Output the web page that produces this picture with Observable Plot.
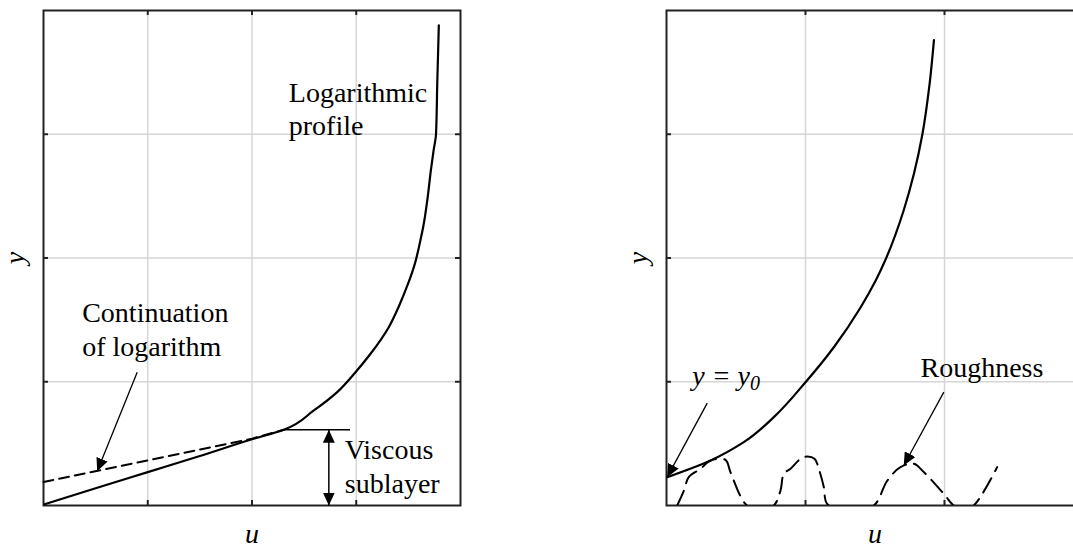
<!DOCTYPE html>
<html><head><meta charset="utf-8">
<script src="https://cdn.jsdelivr.net/npm/d3@7"></script>
<script src="https://cdn.jsdelivr.net/npm/@observablehq/plot@0.6"></script>
<style>
html,body{margin:0;padding:0;background:#fff;overflow:hidden;width:1073px;height:548px;}
#left{position:absolute;left:0;top:0;width:480px;height:548px;}
#right{position:absolute;left:600px;top:0;width:503px;height:548px;}
svg{max-width:none !important;}
</style></head><body>
<div id="left"></div><div id="right"></div>
<script>
// ---------- data ----------
const leftTicksU = [1, 2, 3];
const rightTicksU = [1, 2, 3];
const ticksY = [1, 2, 3];

// Left panel: smooth wall — logarithmic profile with viscous sublayer
const leftSolidU = [0.01, 0.5, 1.0, 1.5, 2.0, 2.305, 2.593, 2.817, 2.993, 3.137, 3.312, 3.405, 3.497, 3.562, 3.615, 3.642, 3.685, 3.716, 3.742, 3.765, 3.777, 3.792];
const leftSolidY = [0.01, 0.14, 0.27, 0.40, 0.535, 0.612, 0.768, 0.916, 1.077, 1.226, 1.441, 1.602, 1.792, 1.953, 2.141, 2.25, 2.49, 2.71, 2.87, 3.0, 3.41, 3.88];
const leftDashU = [0, 1, 2, 2.305];
const leftDashY = [0.19, 0.365, 0.54, 0.612];
const sublayerTop = 0.612;         // height of viscous sublayer
const sublayerLineU = [2.305, 2.945];
const sublayerArrowU = 2.737;

// Right panel: rough wall — logarithmic profile from y = y0
const rightSolidU = [0.005, 0.317, 0.556, 0.772, 1.0, 1.204, 1.396, 1.505, 1.573, 1.705, 1.78, 1.841, 1.89, 1.924];
const rightSolidY = [0.229, 0.364, 0.512, 0.714, 0.996, 1.279, 1.60, 1.818, 1.98, 2.38, 2.68, 3.0, 3.38, 3.76];
const roughU = [0.077, 0.125, 0.16, 0.245, 0.317, 0.424, 0.46, 0.568, 0.67, 0.772, 0.82, 0.844, 0.892, 0.964, 1.012, 1.065, 1.103, 1.132, 1.156, 1.3, 1.491, 1.588, 1.683, 1.779, 1.851, 1.995, 2.067, 2.14, 2.21, 2.379];
const roughY = [0, 0.12, 0.229, 0.297, 0.364, 0.369, 0.27, 0.013, -0.05, 0, 0.12, 0.256, 0.297, 0.377, 0.396, 0.377, 0.269, 0.148, 0.013, -0.05, 0, 0.2, 0.31, 0.337, 0.27, 0.094, 0, -0.03, 0, 0.31];

// annotations: [label, u, y]
const leftLabels = [["Logarithmic\nprofile", 2.353, 2.99], ["Continuation\nof logarithm", 0.371, 1.212], ["Viscous\nsublayer", 2.89, 0.105]];
const leftArrows = [[0.899, 1.077, 0.515, 0.277]];
const rightLabels = [["Roughness", 1.827, 1.037]];
const rightEq = [["y = y0", 0.185, 0.975]];
const rightArrows = [[0.293, 0.827, 0.005, 0.229], [1.995, 0.916, 1.707, 0.323]];

// ---------- drawing ----------
const FONT = "Liberation Serif";
const FS = 28;
const STYLE = "font-family: 'Liberation Serif', serif; font-size: 28px; background: #fff; color: #000; overflow: visible; max-width: none;";
const zipXY = (xs, ys) => xs.map((x, i) => ({x, y: ys[i]}));

function frameMarks(xTicks, plotW, plotH) {
  return [
    Plot.ruleX(xTicks, {x: d => d, stroke: "#d6d6d6", strokeWidth: 1.5}),
    Plot.ruleY(ticksY, {y: d => d, stroke: "#d6d6d6", strokeWidth: 1.5}),
    Plot.tickX(xTicks, {x: d => d, insetBottom: plotH - 5, stroke: "#222", strokeWidth: 2}),
    Plot.tickX(xTicks, {x: d => d, insetTop: plotH - 5, stroke: "#222", strokeWidth: 2}),
    Plot.tickY(ticksY, {y: d => d, insetRight: plotW - 5, stroke: "#222", strokeWidth: 2}),
    Plot.tickY(ticksY, {y: d => d, insetLeft: plotW - 5, stroke: "#222", strokeWidth: 2}),
    Plot.frame({stroke: "#222", strokeWidth: 2}),
    Plot.text(["u"], {text: d => d, frameAnchor: "bottom", dy: 37, fontFamily: FONT, fontStyle: "italic", fontSize: FS, fill: "#000"}),
    Plot.text(["y"], {text: d => d, frameAnchor: "left", textAnchor: "middle", dx: -28, rotate: -90, fontFamily: FONT, fontStyle: "italic", fontSize: FS, fill: "#000"})
  ];
}

function fillArrows(svg) {
  const ns = "http://www.w3.org/2000/svg";
  svg.querySelectorAll("marker").forEach(m => {
    m.setAttribute("viewBox", "-13 -6 13 12");
    m.setAttribute("markerUnits", "userSpaceOnUse");
    m.setAttribute("markerWidth", "13");
    m.setAttribute("markerHeight", "12");
    m.setAttribute("orient", "auto-start-reverse");
    m.setAttribute("fill", "#000");
    m.setAttribute("stroke", "none");
    while (m.firstChild) m.removeChild(m.firstChild);
    const p = document.createElementNS(ns, "path");
    p.setAttribute("d", "M-13,-6L0,0L-13,6Z");
    m.appendChild(p);
  });
}

const W1 = 480, H = 548, mT = 10, mB = 43;
const left = Plot.plot({
  width: W1, height: H,
  marginLeft: 43, marginRight: 20, marginTop: mT, marginBottom: mB,
  x: {domain: [0, 4], axis: null},
  y: {domain: [0, 4], axis: null},
  style: STYLE,
  marks: [
    ...frameMarks(leftTicksU, W1 - 63, H - mT - mB),
    Plot.line(zipXY(leftDashU, leftDashY), {x: "x", y: "y", stroke: "#000", strokeWidth: 2, strokeDasharray: "10,6"}),
    Plot.line(zipXY(leftSolidU, leftSolidY), {x: "x", y: "y", stroke: "#000", strokeWidth: 2.2, curve: "monotone-y"}),
    Plot.ruleY([sublayerTop], {y: d => d, x1: sublayerLineU[0], x2: sublayerLineU[1], stroke: "#000", strokeWidth: 1.3}),
    Plot.link([sublayerTop], {x1: sublayerArrowU, x2: sublayerArrowU, y1: 0, y2: d => d, stroke: "#000", strokeWidth: 1.5, markerStart: "arrow", markerEnd: "arrow"}),
    Plot.link(leftArrows, {x1: d => d[0], y1: d => d[1], x2: d => d[2], y2: d => d[3], stroke: "#000", strokeWidth: 1.3, markerEnd: "arrow"}),
    Plot.text(leftLabels, {text: d => d[0], x: d => d[1], y: d => d[2], textAnchor: "start", lineAnchor: "bottom", lineHeight: 1.19, fontFamily: FONT, fontSize: FS, fill: "#000"})
  ]
});
fillArrows(left);
document.getElementById("left").appendChild(left);

const W2 = 503;
const right = Plot.plot({
  width: W2, height: H,
  marginLeft: 66, marginRight: 20, marginTop: mT, marginBottom: mB,
  x: {domain: [0, 3], axis: null},
  y: {domain: [0, 4], axis: null},
  style: STYLE,
  marks: [
    ...frameMarks(rightTicksU, W2 - 86, H - mT - mB),
    Plot.line(zipXY(roughU, roughY), {x: "x", y: "y", stroke: "#000", strokeWidth: 2, strokeDasharray: "16,8", curve: "catmull-rom", clip: true}),
    Plot.line(zipXY(rightSolidU, rightSolidY), {x: "x", y: "y", stroke: "#000", strokeWidth: 2.2, curve: "monotone-y"}),
    Plot.link(rightArrows, {x1: d => d[0], y1: d => d[1], x2: d => d[2], y2: d => d[3], stroke: "#000", strokeWidth: 1.3, markerEnd: "arrow"}),
    Plot.text(rightLabels, {text: d => d[0], x: d => d[1], y: d => d[2], textAnchor: "start", lineAnchor: "bottom", fontFamily: FONT, fontSize: FS, fill: "#000"}),
    Plot.text(rightEq, {text: d => d[0], x: d => d[1], y: d => d[2], textAnchor: "start", lineAnchor: "bottom", fontFamily: FONT, fontSize: FS, fontStyle: "italic", fill: "#000"})
  ]
});
fillArrows(right);
// subscript for y0
right.querySelectorAll("text").forEach(t => {
  if (t.textContent === "y = y0") {
    const ns = "http://www.w3.org/2000/svg";
    t.textContent = "y = y";
    const s = document.createElementNS(ns, "tspan");
    s.setAttribute("dy", "5");
    s.setAttribute("font-size", "20");
    s.textContent = "0";
    t.appendChild(s);
  }
});
document.getElementById("right").appendChild(right);
</script>
</body></html>
